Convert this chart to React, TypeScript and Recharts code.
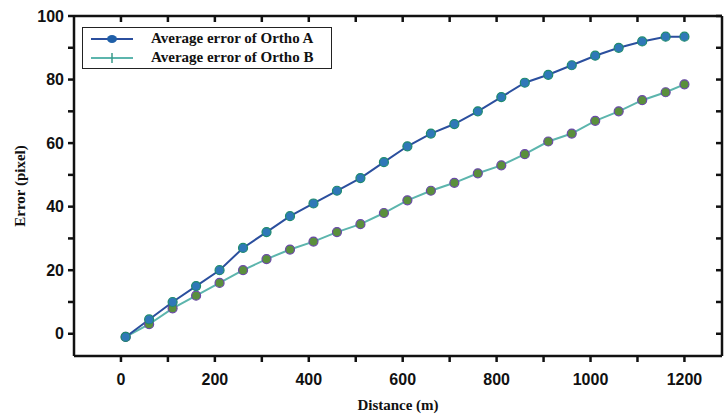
import React from 'react';
import {
  LineChart,
  Line,
  XAxis,
  YAxis,
} from 'recharts';

const DISTANCES = [10, 60, 110, 160, 210, 260, 310, 360, 410, 460, 510, 560, 610, 660, 710, 760, 810, 860, 910, 960, 1010, 1060, 1110, 1160, 1200];
const ORTHO_A = [-1, 4.5, 10, 15, 20, 27, 32, 37, 41, 45, 49, 54, 59, 63, 66, 70, 74.5, 79, 81.5, 84.5, 87.5, 90, 92, 93.5, 93.5];
const ORTHO_B = [-1, 3, 8, 12, 16, 20, 23.5, 26.5, 29, 32, 34.5, 38, 42, 45, 47.5, 50.5, 53, 56.5, 60.5, 63, 67, 70, 73.5, 76, 78.5];

const X_TICKS = [0, 100, 200, 300, 400, 500, 600, 700, 800, 900, 1000, 1100, 1200];
const Y_TICKS = [0, 10, 20, 30, 40, 50, 60, 70, 80, 90, 100];

const COLOR_A = '#2b4f9e';
const COLOR_B = '#5cb5ad';

const chartData = DISTANCES.map((d, i) => ({ d, a: ORTHO_A[i], b: ORTHO_B[i] }));

const tickFont = { fontFamily: 'Liberation Sans, Arial, sans-serif', fontWeight: 700, fontSize: 16, fill: '#111' };
const titleFont = { fontFamily: 'Liberation Serif, Times New Roman, serif', fontWeight: 700, fontSize: 15, fill: '#111' };

function DotA(props: any) {
  const { cx, cy } = props;
  if (cx == null || cy == null) return null;
  return <circle cx={cx} cy={cy} r={4.5} fill="#2f78b8" stroke="#1e8a6e" strokeWidth={1.2} />;
}

function DotB(props: any) {
  const { cx, cy } = props;
  if (cx == null || cy == null) return null;
  return <circle cx={cx} cy={cy} r={4.5} fill="#5a8f3c" stroke="#6a4aa8" strokeWidth={1.2} />;
}

function LegendBox() {
  const row = (color: string, label: string, marker: 'dot' | 'plus') => (
    <div style={{ display: 'flex', alignItems: 'center', height: 19 }}>
      <svg width={50} height={12} style={{ marginRight: 14 }}>
        <line x1={4} y1={6} x2={46} y2={6} stroke={color} strokeWidth={2} />
        {marker === 'dot' ? (
          <ellipse cx={25} cy={6} rx={5} ry={4} fill="#1f5fa8" />
        ) : (
          <line x1={25} y1={1} x2={25} y2={11} stroke="#3a9a8a" strokeWidth={1.5} />
        )}
      </svg>
      <span style={{ fontFamily: 'Liberation Serif, Times New Roman, serif', fontWeight: 700, fontSize: 15, color: '#111', whiteSpace: 'nowrap' }}>{label}</span>
    </div>
  );
  return (
    <div style={{ position: 'absolute', left: 82, top: 27, border: '1.5px solid #222', background: '#fff', padding: '1px 8px 1px 4px', width: 236 }}>
      {row(COLOR_A, 'Average error of Ortho A', 'dot')}
      {row(COLOR_B, 'Average error of Ortho B', 'plus')}
    </div>
  );
}

const blank = () => '';

export default function App() {
  return (
    <div style={{ position: 'absolute', left: 0, top: 0, width: 727, height: 415, background: '#fff' }}>
      <LineChart
        width={727}
        height={415}
        data={chartData}
        margin={{ top: 0, right: 0, left: 0, bottom: 0 }}
      >
        <XAxis
          xAxisId="bottom"
          dataKey="d"
          type="number"
          domain={[-100, 1280]}
          ticks={X_TICKS}
          allowDataOverflow
          height={59}
          tickSize={6}
          tickMargin={12}
          stroke="#111"
          strokeWidth={2.5}
          tick={tickFont}
          tickFormatter={(v: number) => (v % 200 === 0 ? String(v) : '')}
          label={{ value: 'Distance (m)', position: 'insideBottom', offset: 5, style: titleFont }}
        />
        <XAxis
          xAxisId="top"
          orientation="top"
          dataKey="d"
          type="number"
          domain={[-100, 1280]}
          ticks={X_TICKS}
          allowDataOverflow
          height={16}
          tickSize={-6}
          stroke="#111"
          strokeWidth={2.5}
          tick={{ fontSize: 1, fill: 'none' }}
          tickFormatter={blank}
        />
        <YAxis
          yAxisId="left"
          type="number"
          domain={[-7, 100]}
          ticks={Y_TICKS}
          allowDataOverflow
          width={74}
          tickSize={6}
          tickMargin={4}
          stroke="#111"
          strokeWidth={2.5}
          tick={tickFont}
          tickFormatter={(v: number) => (v % 20 === 0 ? String(v) : '')}
          label={{ value: 'Error (pixel)', angle: -90, position: 'insideLeft', offset: 20, style: { ...titleFont, textAnchor: 'middle' } }}
        />
        <YAxis
          yAxisId="right"
          orientation="right"
          type="number"
          domain={[-7, 100]}
          ticks={Y_TICKS}
          allowDataOverflow
          width={5}
          tickSize={-6}
          stroke="#111"
          strokeWidth={2.5}
          tick={{ fontSize: 1, fill: 'none' }}
          tickFormatter={blank}
        />
        <Line
          xAxisId="bottom"
          yAxisId="left"
          type="linear"
          dataKey="b"
          stroke={COLOR_B}
          strokeWidth={2}
          dot={<DotB />}
          isAnimationActive={false}
          name="Average error of Ortho B"
        />
        <Line
          xAxisId="bottom"
          yAxisId="left"
          type="linear"
          dataKey="a"
          stroke={COLOR_A}
          strokeWidth={2}
          dot={<DotA />}
          isAnimationActive={false}
          name="Average error of Ortho A"
        />
      </LineChart>
      <LegendBox />
    </div>
  );
}
